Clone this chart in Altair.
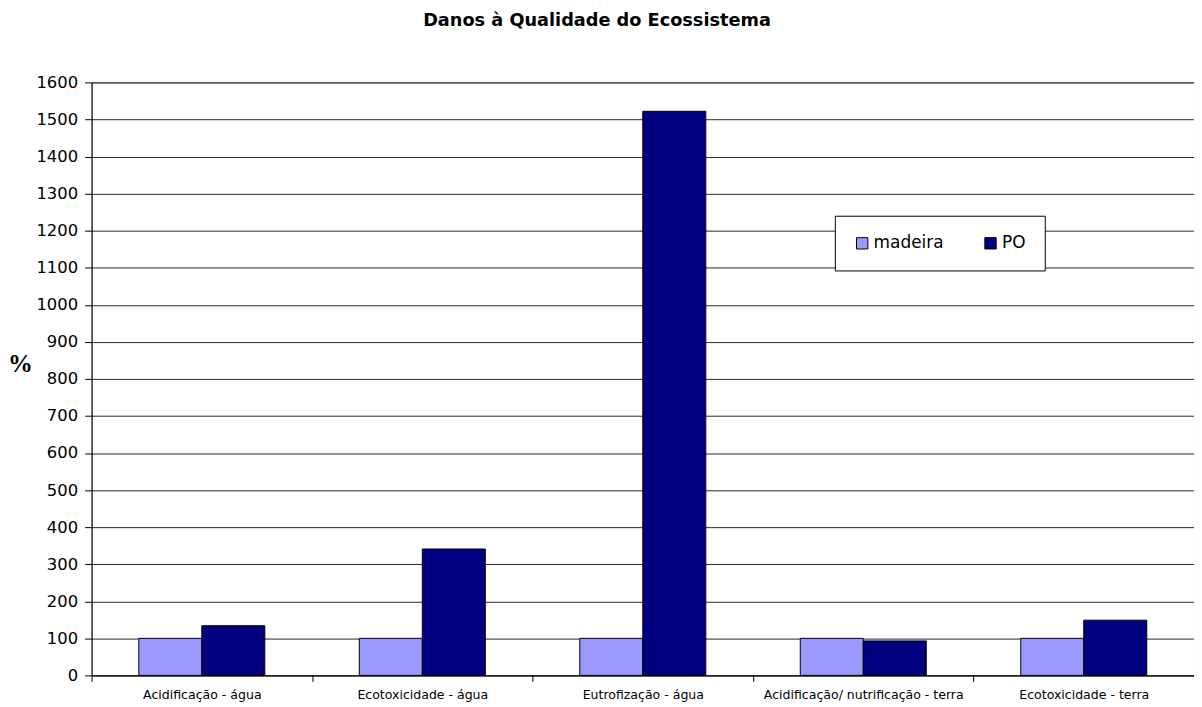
import altair as alt
import pandas as pd

categories = [
    "Acidificação - água",
    "Ecotoxicidade - água",
    "Eutrofização - água",
    "Acidificação/ nutrificação - terra",
    "Ecotoxicidade - terra",
]
series = ["madeira", "PO"]
madeira = [100, 100, 100, 100, 100]
po = [134, 341, 1522, 93, 149]
y_ticks = [0, 100, 200, 300, 400, 500, 600, 700, 800, 900, 1000, 1100, 1200, 1300, 1400, 1500, 1600]
colors = ["#9999FF", "#000080"]

rows = []
for c, m, p in zip(categories, madeira, po):
    rows.append({"cat": c, "serie": "madeira", "valor": m})
    rows.append({"cat": c, "serie": "PO", "valor": p})
df = pd.DataFrame(rows)

FONT = "DejaVu Sans"

chart = alt.Chart(df).mark_bar(stroke="black", strokeWidth=1).encode(
    x=alt.X("cat:N", sort=categories,
            scale=alt.Scale(paddingInner=0, paddingOuter=0),
            axis=alt.Axis(title=None, labelAngle=0, labelFontSize=12.6, labelFont=FONT,
                          labelColor="black", tickBand="extent", tickSize=6,
                          tickColor="black", domainColor="black", labelPadding=7,
                          labelLimit=0, grid=False)),
    xOffset=alt.XOffset("serie:N", sort=series,
                        scale=alt.Scale(paddingInner=0, paddingOuter=0.75)),
    y=alt.Y("valor:Q", scale=alt.Scale(domain=[0, 1600], nice=False),
            axis=alt.Axis(values=y_ticks, format="d", title="%", titleAngle=0,
                          titleFont="Liberation Serif",
                          titleFontSize=25, titleFontWeight="bold", titleColor="black",
                          titleX=-72, titleY=283, titleAlign="center", titleBaseline="middle",
                          labelFontSize=16.5, labelFont=FONT, labelColor="black",
                          tickSize=7, tickColor="black", domainColor="black",
                          gridColor="black", gridWidth=1, gridOpacity=0.85, labelPadding=7)),
    color=alt.Color("serie:N", sort=series,
                    scale=alt.Scale(domain=series, range=colors),
                    legend=alt.Legend(title=None, orient="none", legendX=747, legendY=134,
                                      direction="horizontal", symbolType="square",
                                      symbolSize=130, symbolStrokeColor="black",
                                      symbolStrokeWidth=1, labelFontSize=17, labelFont=FONT,
                                      labelColor="black", padding=19, columnPadding=38,
                                      strokeColor="black", fillColor="white",
                                      symbolOpacity=1, labelOffset=3)),
).properties(
    width=1108,
    height=596,
    title=alt.TitleParams("Danos à Qualidade do Ecossistema", fontSize=17.8, font=FONT,
                          fontWeight="bold", color="black", anchor="middle",
                          offset=45, dx=-46),
    autosize=alt.AutoSizeParams(type="none"),
    padding={"left": 84, "top": 73, "right": 0, "bottom": 32},
).configure_view(stroke="#808080", strokeWidth=1)

chart.save("out.html", embed_options={"renderer": "svg", "actions": False})
